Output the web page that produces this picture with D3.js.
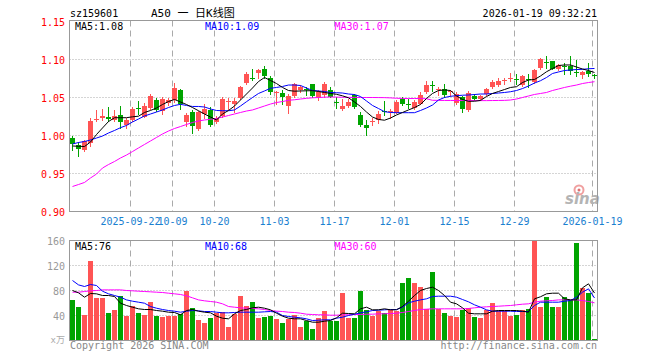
<!DOCTYPE html>
<html><head><meta charset="utf-8">
<script src="https://cdn.jsdelivr.net/npm/d3@7"></script>
<style>
body{margin:0;background:#fff}
svg{display:block}
text{font-family:"DejaVu Sans Mono","Noto Sans CJK SC",monospace}
</style>
</head><body>
<svg id="c" width="660" height="360"></svg>
<script>
const dates = ["2025-09-08","2025-09-09","2025-09-10","2025-09-11","2025-09-12","2025-09-15","2025-09-16","2025-09-17","2025-09-18","2025-09-19","2025-09-22","2025-09-23","2025-09-24","2025-09-25","2025-09-26","2025-09-29","2025-09-30","2025-10-09","2025-10-10","2025-10-13","2025-10-14","2025-10-15","2025-10-16","2025-10-17","2025-10-20","2025-10-21","2025-10-22","2025-10-23","2025-10-24","2025-10-27","2025-10-28","2025-10-29","2025-10-30","2025-10-31","2025-11-03","2025-11-04","2025-11-05","2025-11-06","2025-11-07","2025-11-10","2025-11-11","2025-11-12","2025-11-13","2025-11-14","2025-11-17","2025-11-18","2025-11-19","2025-11-20","2025-11-21","2025-11-24","2025-11-25","2025-11-26","2025-11-27","2025-11-28","2025-12-01","2025-12-02","2025-12-03","2025-12-04","2025-12-05","2025-12-08","2025-12-09","2025-12-10","2025-12-11","2025-12-12","2025-12-15","2025-12-16","2025-12-17","2025-12-18","2025-12-19","2025-12-22","2025-12-23","2025-12-24","2025-12-25","2025-12-26","2025-12-29","2025-12-30","2025-12-31","2026-01-05","2026-01-06","2026-01-07","2026-01-08","2026-01-09","2026-01-12","2026-01-13","2026-01-14","2026-01-15","2026-01-16","2026-01-19"];

const open = [0.9971,0.9875,0.9810,0.9905,1.0205,1.0226,1.0241,1.0204,1.0270,1.0138,
1.0204,1.0360,1.0248,1.0357,1.0467,1.0327,1.0423,1.0467,1.0599,1.0182,
1.0314,1.0081,1.0283,1.0330,1.0182,1.0255,1.0439,1.0413,1.0487,1.0697,
1.0762,1.0823,1.0871,1.0762,1.0562,1.0561,1.0391,1.0517,1.0596,1.0614,
1.0675,1.0487,1.0531,1.0605,1.0443,1.0343,1.0391,1.0531,1.0268,1.0137,
1.0192,1.0203,1.0325,1.0310,1.0299,1.0483,1.0417,1.0356,1.0421,1.0574,
1.0660,1.0614,1.0609,1.0579,1.0430,1.0500,1.0334,1.0522,1.0474,1.0544,
1.0640,1.0662,1.0723,1.0758,1.0749,1.0662,1.0740,1.0705,1.0889,1.0972,
1.0976,1.0880,1.0915,1.0911,1.0832,1.0793,1.0850,1.0795];
const high = [0.9997,0.9918,0.9941,1.0234,1.0335,1.0349,1.0377,1.0336,1.0388,1.0226,
1.0379,1.0454,1.0423,1.0542,1.0489,1.0502,1.0489,1.0695,1.0607,1.0300,
1.0336,1.0327,1.0410,1.0379,1.0255,1.0500,1.0487,1.0487,1.0653,1.0832,
1.0871,1.0880,1.0911,1.0784,1.0579,1.0605,1.0552,1.0697,1.0662,1.0640,
1.0684,1.0596,1.0705,1.0640,1.0500,1.0474,1.0474,1.0550,1.0310,1.0203,
1.0225,1.0325,1.0452,1.0343,1.0465,1.0509,1.0474,1.0465,1.0574,1.0714,
1.0714,1.0640,1.0675,1.0605,1.0574,1.0517,1.0587,1.0543,1.0531,1.0631,
1.0727,1.0750,1.0762,1.0823,1.0814,1.0793,1.0814,1.0880,1.1025,1.1048,
1.0985,1.0946,1.0959,1.1042,1.0998,1.0850,1.0959,1.0815];
const low = [0.9810,0.9734,0.9796,0.9862,1.0193,1.0204,1.0193,1.0191,1.0094,1.0094,
1.0195,1.0283,1.0239,1.0344,1.0327,1.0283,1.0401,1.0445,1.0350,1.0125,
1.0037,1.0072,1.0226,1.0125,1.0168,1.0247,1.0343,1.0312,1.0474,1.0684,
1.0727,1.0762,1.0762,1.0544,1.0421,1.0421,1.0299,1.0509,1.0574,1.0531,
1.0500,1.0465,1.0500,1.0500,1.0360,1.0334,1.0378,1.0360,1.0120,1.0006,
1.0137,1.0159,1.0268,1.0225,1.0290,1.0400,1.0356,1.0343,1.0412,1.0553,
1.0587,1.0531,1.0509,1.0517,1.0421,1.0312,1.0325,1.0465,1.0465,1.0530,
1.0631,1.0653,1.0675,1.0718,1.0684,1.0653,1.0644,1.0697,1.0876,1.0889,
1.0870,1.0858,1.0815,1.0815,1.0784,1.0763,1.0784,1.0750];
const close = [0.9888,0.9822,0.9928,1.0191,1.0222,1.0260,1.0223,1.0261,1.0182,1.0204,
1.0349,1.0353,1.0388,1.0520,1.0336,1.0476,1.0467,1.0629,1.0414,1.0270,
1.0125,1.0314,1.0349,1.0137,1.0236,1.0474,1.0452,1.0452,1.0640,1.0815,
1.0753,1.0867,1.0780,1.0574,1.0566,1.0509,1.0517,1.0684,1.0640,1.0605,
1.0517,1.0574,1.0684,1.0509,1.0435,1.0391,1.0443,1.0378,1.0137,1.0094,
1.0196,1.0281,1.0316,1.0316,1.0439,1.0421,1.0412,1.0443,1.0531,1.0662,
1.0653,1.0618,1.0531,1.0583,1.0552,1.0343,1.0561,1.0474,1.0517,1.0618,
1.0705,1.0718,1.0727,1.0762,1.0727,1.0780,1.0736,1.0867,1.1003,1.0967,
1.0880,1.0924,1.0911,1.0850,1.0828,1.0836,1.0815,1.0792];

const ma5 = [0.9862,0.9858,0.9855,0.9914,1.0013,1.0099,1.0184,1.0234,1.0234,1.0234,
1.0246,1.0254,1.0303,1.0329,1.0362,1.0408,1.0447,1.0474,1.0441,1.0408,
1.0368,1.0326,1.0283,1.0243,1.0204,1.0283,1.0329,1.0388,1.0467,1.0546,
1.0625,1.0710,1.0763,1.0724,1.0684,1.0632,1.0592,1.0583,1.0586,1.0588,
1.0590,1.0579,1.0566,1.0553,1.0542,1.0522,1.0496,1.0441,1.0382,1.0309,
1.0243,1.0211,1.0201,1.0230,1.0270,1.0303,1.0336,1.0368,1.0408,1.0487,
1.0553,1.0592,1.0599,1.0592,1.0520,1.0474,1.0450,1.0451,1.0461,1.0513,
1.0553,1.0579,1.0605,1.0632,1.0642,1.0697,1.0730,1.0737,1.0783,1.0839,
1.0881,1.0921,1.0928,1.0928,1.0901,1.0875,1.0855,1.0829];
const ma10 = [0.9888,0.9908,0.9921,0.9941,0.9967,0.9993,1.0033,1.0066,1.0103,1.0132,
1.0178,1.0217,1.0257,1.0283,1.0309,1.0336,1.0368,1.0395,1.0410,1.0395,
1.0382,1.0382,1.0375,1.0349,1.0329,1.0326,1.0326,1.0336,1.0388,1.0445,
1.0500,1.0553,1.0586,1.0621,1.0632,1.0645,1.0664,1.0664,1.0658,1.0625,
1.0592,1.0586,1.0579,1.0566,1.0563,1.0559,1.0546,1.0539,1.0513,1.0454,
1.0395,1.0355,1.0313,1.0303,1.0300,1.0300,1.0300,1.0300,1.0329,1.0362,
1.0401,1.0467,1.0500,1.0516,1.0524,1.0530,1.0533,1.0539,1.0546,1.0546,
1.0553,1.0559,1.0566,1.0576,1.0592,1.0618,1.0651,1.0690,1.0721,1.0763,
1.0816,1.0836,1.0855,1.0862,1.0868,1.0871,1.0878,1.0882];
const ma30 = [0.9329,0.9355,0.9382,0.9441,0.9493,0.9572,0.9618,0.9658,0.9704,0.9743,
0.9789,0.9836,0.9882,0.9928,0.9974,1.0020,1.0059,1.0092,1.0118,1.0145,
1.0171,1.0191,1.0204,1.0213,1.0224,1.0243,1.0263,1.0283,1.0303,1.0322,
1.0336,1.0362,1.0388,1.0414,1.0434,1.0447,1.0463,1.0470,1.0480,1.0489,
1.0496,1.0500,1.0504,1.0507,1.0505,1.0503,1.0502,1.0501,1.0500,1.0500,
1.0500,1.0499,1.0498,1.0495,1.0490,1.0488,1.0487,1.0487,1.0486,1.0484,
1.0463,1.0462,1.0461,1.0461,1.0460,1.0460,1.0460,1.0459,1.0459,1.0459,
1.0460,1.0461,1.0462,1.0467,1.0480,1.0500,1.0520,1.0540,1.0553,1.0566,
1.0592,1.0612,1.0632,1.0649,1.0664,1.0684,1.0697,1.0708];

const volume = [65.6,54.4,41.6,128,67.7,68.8,44.8,49.6,72,40,
56,44.8,41.6,62.4,38.9,38.4,40,40,42.7,80,
52.8,33.6,28.8,36.8,44.8,46.4,22.4,43.2,72,55.5,
62.4,36.8,38.4,40,35.2,28.8,35.2,41.6,22.4,30.9,
19.2,36.3,48,31,31,75.7,35.7,35.7,80,49.6,
40,48,44.8,49,48,91.7,100.3,91.7,86.4,50.7,
110.4,50.7,43.7,40,38.4,49.6,52.3,38.4,35.7,49.6,
59.7,48,48,38.9,41.6,49.6,50.7,159,53.3,70.4,
53.3,54.4,70.4,65,155.7,84.3,75.7,1.6];
const volMa5 = [80,76.3,69.3,75.2,74.7,72,72,70.4,59.7,56,
53.3,50.7,49.6,49.6,48,46.9,45.3,44.8,41.1,48,
49.6,46.9,45.3,44.3,38.9,35.7,34.7,42.7,48,49.6,
52.3,53.3,51.7,49.1,43.7,38.9,35.7,34.7,34.7,32,
29.3,29.3,30.9,32,36.3,43.7,43.2,42.7,50.7,53.3,
49.1,49.1,50.7,49.1,49.1,54.4,62.9,72,80,83.2,
85.3,80,72,61.3,58.7,52.3,43.7,42.7,42.7,42.7,
46.9,48,48,48,48,46.9,45.3,66.7,70,74.7,
75.7,75.7,66.7,65,65,84.3,90.7,76];
const volMa10 = [96,89,86.4,89.6,88,78.9,74.7,72,69.3,65,
62.9,61.3,59.7,54.4,51.7,49.6,48,46.9,45.3,46.9,
48,47.5,46.4,46.4,45.3,44.3,44.3,44.8,45.3,45.3,
45.3,45.3,45.9,46.4,45.3,40,38.4,37.3,36.3,34.7,
32,32.5,33.1,33.1,35.7,37.3,40,42.1,44.3,45.9,
48,48.5,49.1,49.6,49.6,53.3,60.3,62.9,65,66.7,
70.4,70.9,70.9,70.9,69.3,65.6,61.9,57.1,53.3,49.1,
46.9,46.9,46.9,46.9,46.4,46.4,46.4,56,61.3,61.3,
61.3,61.3,62.9,64,69.3,77.3,82.7,68];
const volMa30 = [77.3,77.3,78.4,79.5,80,81,81,81,81,80,
79.5,78.9,78.4,77.9,77.3,76.8,75.7,74.7,73.6,71.5,
68.3,65,63.5,62.4,61.3,58.7,54.4,53.3,52.3,51.7,
51.2,50.7,49.6,48,46.9,46.4,45.3,44.8,43.7,42.1,
41.6,41.1,41.1,40.5,40.5,41.1,41.1,41.6,41.6,42.1,
42.1,42.7,42.7,43.2,43.7,44.8,46.4,48,49.6,50.1,
50.7,50.7,50.7,50.7,50.7,50.7,51.2,52.3,53.3,53.9,
54.4,54.9,55.5,56,57.1,58.1,58.7,61.3,62.9,63.5,
64,65,65,65,65,64,62.4,60.3];

const priceTicks = [0.90,0.95,1.00,1.05,1.10,1.15];
const volTicks = [40,80,120,160];
const tickDates = ["2025-09-22","2025-10-09","2025-10-20","2025-11-03","2025-11-17","2025-12-01","2025-12-15","2025-12-29","2026-01-19"];
const tickLabels = ["2025-09-22","10-09","10-20","11-03","11-17","12-01","12-15","12-29","2026-01-19"];

const RED = "#ff5454", GREEN = "#00a400";
const svg = d3.select("#c");
const L = 69.5, R = 597.5, PT = 20.5, PB = 211.5, VT = 240.5, VB = 340.5;

const x = d3.scaleBand().domain(dates).range([L, R]).paddingInner(1/6).paddingOuter(1/12);
const cx = d => x(d) + x.bandwidth() / 2;
const yP = d3.scaleLinear().domain([0.90, 1.15]).range([211.5, 21.5]);
const yV = d3.scaleLinear().domain([0, 160]).range([340.5, 240.5]);

const rows = dates.map((d, i) => ({d, o: open[i], h: high[i], l: low[i], c: close[i], v: volume[i], up: close[i] >= open[i]}));

// grid: horizontal dotted
svg.append("g").selectAll("line").data(priceTicks.filter(t => t > 0.9 && t < 1.15)).join("line")
  .attr("x1", L).attr("x2", R).attr("y1", t => Math.floor(yP(t)) + 0.5).attr("y2", t => Math.floor(yP(t)) + 0.5)
  .attr("stroke", "#aaa").attr("stroke-dasharray", "1,2");
svg.append("g").selectAll("line").data(volTicks.filter(t => t < 160)).join("line")
  .attr("x1", L).attr("x2", R).attr("y1", t => Math.floor(yV(t)) + 0.5).attr("y2", t => Math.floor(yV(t)) + 0.5)
  .attr("stroke", "#aaa").attr("stroke-dasharray", "1,2");
// vertical dashed
const vg = svg.append("g");
tickDates.forEach(d => {
  const xx = x(d) + 0.5;
  vg.append("line").attr("x1", xx).attr("x2", xx).attr("y1", PT).attr("y2", PB).attr("stroke", "#aaa").attr("stroke-dasharray", "6,4");
  vg.append("line").attr("x1", xx).attr("x2", xx).attr("y1", VT).attr("y2", VB).attr("stroke", "#aaa").attr("stroke-dasharray", "6,4");
});

// watermark
const wm = svg.append("g");
wm.append("circle").attr("cx", 579).attr("cy", 190).attr("r", 4.5).attr("fill", "none").attr("stroke", "#f0a0a0").attr("stroke-width", 2);
wm.append("circle").attr("cx", 579).attr("cy", 190).attr("r", 1.5).attr("fill", "#e07070");
wm.append("text").attr("x", 565).attr("y", 204).attr("font-size", 15).attr("font-weight", "bold").attr("font-style", "italic")
  .attr("fill", "#b4b4b4").style("font-family", "'DejaVu Sans',sans-serif").text("sina");

// candles
const cg = svg.append("g").attr("shape-rendering", "crispEdges");
cg.selectAll("line").data(rows).join("line")
  .attr("x1", r => cx(r.d)).attr("x2", r => cx(r.d))
  .attr("y1", r => Math.round(yP(r.h))).attr("y2", r => Math.round(yP(r.l)) + 1)
  .attr("stroke", r => r.up ? RED : GREEN);
cg.selectAll("rect").data(rows).join("rect")
  .attr("x", r => x(r.d)).attr("width", x.bandwidth())
  .attr("y", r => Math.round(yP(Math.max(r.o, r.c))))
  .attr("height", r => Math.max(1, Math.round(yP(Math.min(r.o, r.c))) - Math.round(yP(Math.max(r.o, r.c)))))
  .attr("fill", r => r.up ? RED : GREEN);

// volume bars
svg.append("g").attr("shape-rendering", "crispEdges").selectAll("rect").data(rows).join("rect")
  .attr("x", r => x(r.d)).attr("width", x.bandwidth())
  .attr("y", r => Math.round(yV(r.v))).attr("height", r => 340.5 - Math.round(yV(r.v)))
  .attr("fill", r => r.up ? RED : GREEN);

// MA lines
function drawLine(arr, ys, color) {
  svg.append("path").datum(arr).attr("fill", "none").attr("stroke", color).attr("stroke-width", 1)
    .attr("d", d3.line().x((v, i) => cx(dates[i])).y(v => ys(v)));
}
drawLine(ma30, yP, "#ff00ff");
drawLine(ma10, yP, "#0000ff");
drawLine(ma5, yP, "#000000");
drawLine(volMa30, yV, "#ff00ff");
drawLine(volMa10, yV, "#0000ff");
drawLine(volMa5, yV, "#000000");

// borders
svg.append("rect").attr("x", L).attr("y", PT).attr("width", R - L).attr("height", PB - PT).attr("fill", "none").attr("stroke", "#999");
svg.append("rect").attr("x", L).attr("y", VT).attr("width", R - L).attr("height", VB - VT).attr("fill", "none").attr("stroke", "#999");

// axis labels
svg.append("g").selectAll("text").data(priceTicks).join("text")
  .attr("x", 65).attr("y", t => yP(t) + 4).attr("text-anchor", "end").attr("font-size", 10).attr("fill", "#ff0000")
  .text(t => t.toFixed(2));
svg.append("g").selectAll("text").data(volTicks).join("text")
  .attr("x", 65).attr("y", t => yV(t) + 4).attr("text-anchor", "end").attr("font-size", 10).attr("fill", "#999")
  .text(t => t);
svg.append("text").attr("x", 65).attr("y", 343).attr("text-anchor", "end").attr("font-size", 9).attr("fill", "#aaa").text("x万");
svg.append("g").selectAll("text").data(tickDates).join("text")
  .attr("x", d => x(d) + 0.5).attr("y", 225).attr("text-anchor", "middle").attr("font-size", 10).attr("fill", "#1a80d0")
  .text((d, i) => tickLabels[i]);

// titles
svg.append("text").attr("x", 70).attr("y", 17).attr("font-size", 10).attr("fill", "#000").text("sz159601");
svg.append("text").attr("x", 151).attr("y", 17).attr("font-size", 11).attr("fill", "#000").text("A50 一 日K线图");
svg.append("text").attr("x", 597).attr("y", 17).attr("text-anchor", "end").attr("font-size", 10).attr("fill", "#000").text("2026-01-19 09:32:21");

// legends
const last = a => a[a.length - 1];
function legend(y, items) {
  items.forEach(([xx, t, c]) => svg.append("text").attr("x", xx).attr("y", y).attr("font-size", 10).attr("fill", c).text(t));
}
legend(29.5, [[75, "MA5:" + last(ma5).toFixed(2), "#000"], [205, "MA10:" + last(ma10).toFixed(2), "#0000ff"], [334.5, "MA30:" + last(ma30).toFixed(2), "#ff00ff"]]);
legend(250, [[75, "MA5:" + Math.round(last(volMa5)), "#000"], [205, "MA10:" + Math.round(last(volMa10)), "#0000ff"], [334.5, "MA30:" + Math.round(last(volMa30)), "#ff00ff"]]);

// footer
svg.append("text").attr("x", 70).attr("y", 349).attr("font-size", 10).attr("fill", "#888").text("Copyright 2026 SINA.COM");
svg.append("text").attr("x", 597).attr("y", 349).attr("text-anchor", "end").attr("font-size", 10).attr("fill", "#888").text("http://finance.sina.com.cn");
</script>
</body></html>
